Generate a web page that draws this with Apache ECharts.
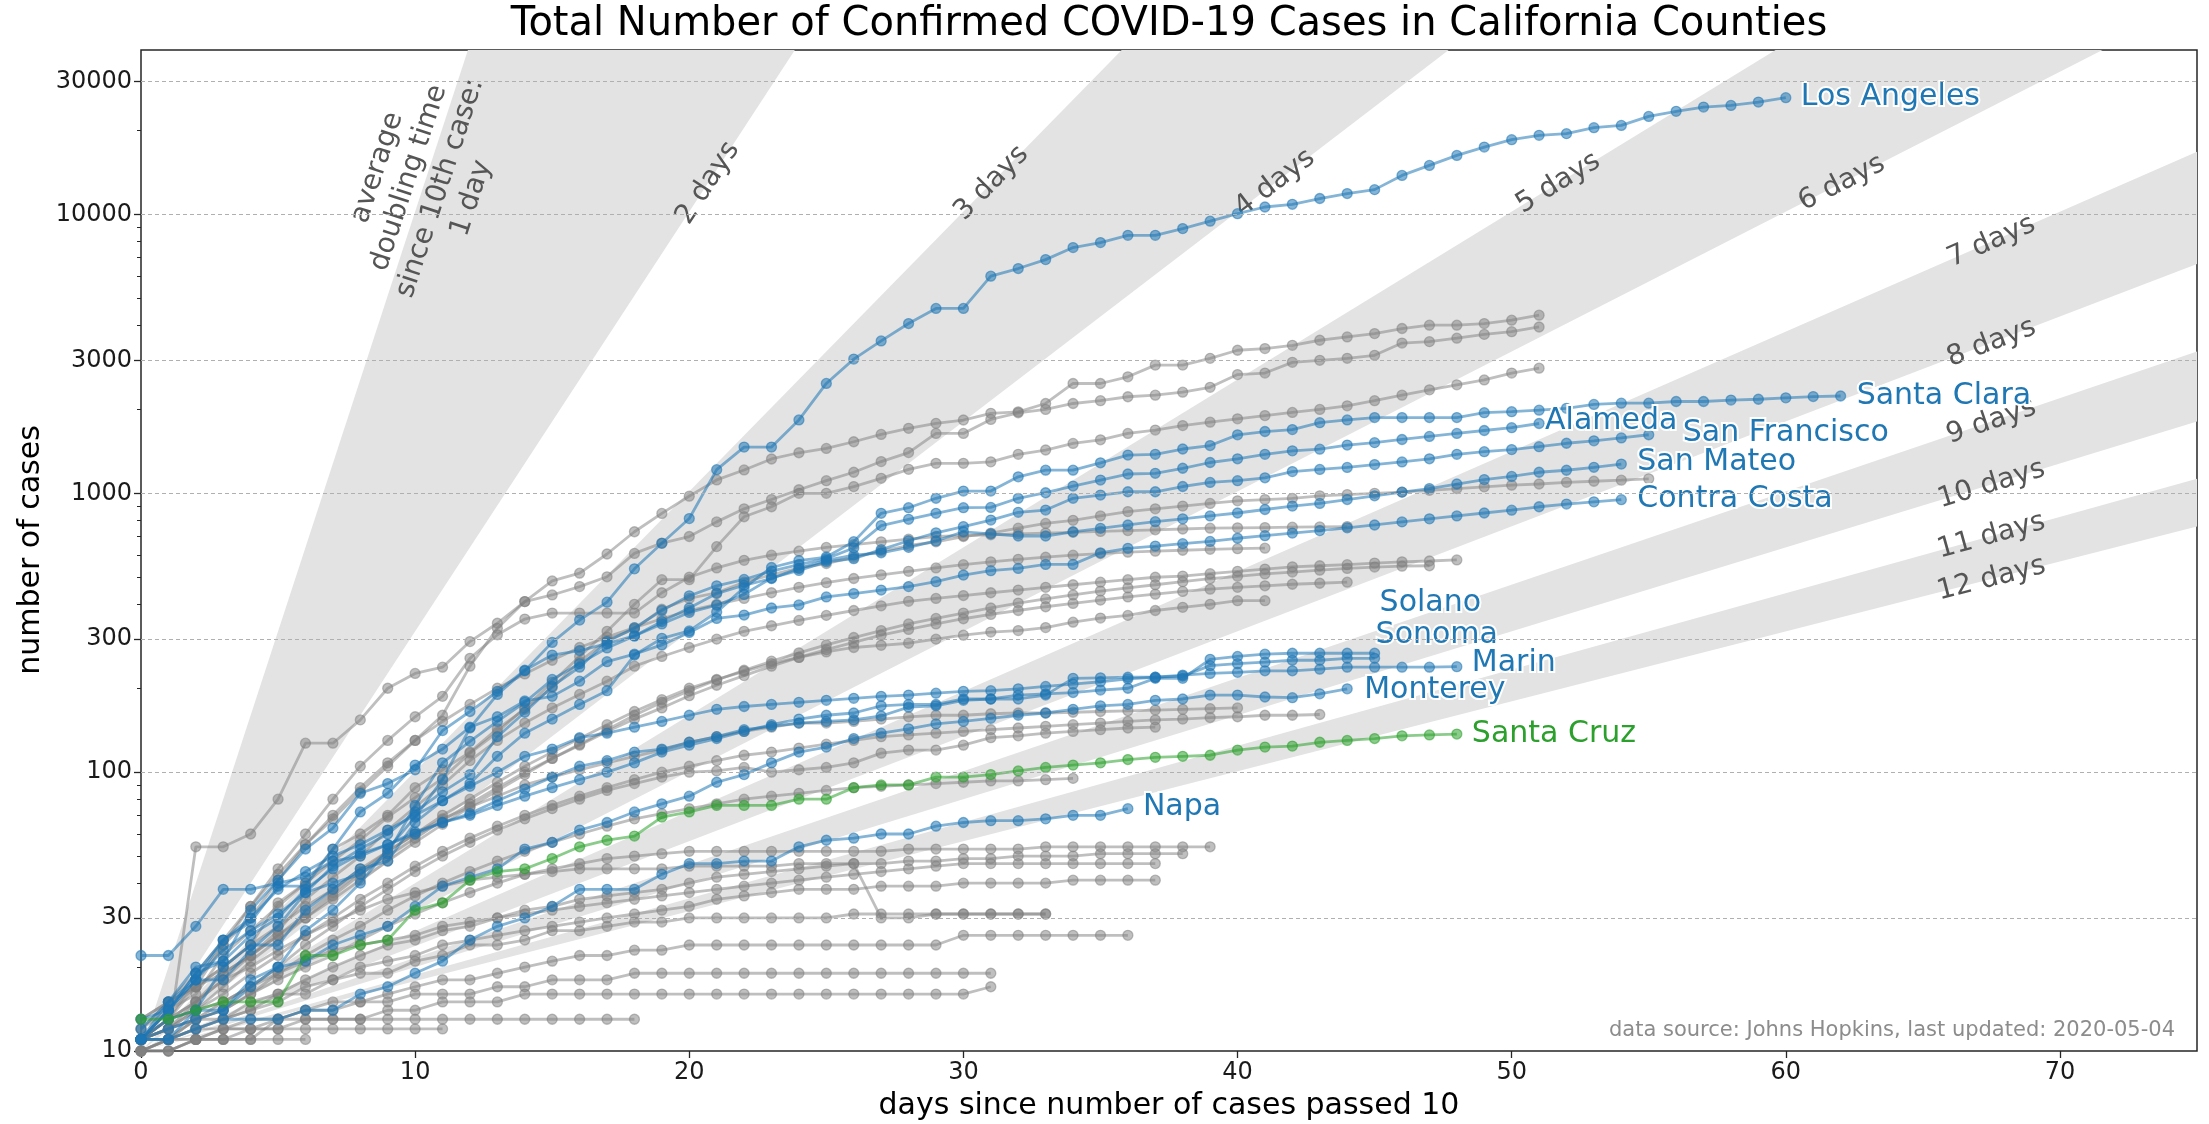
<!DOCTYPE html>
<html>
<head>
<meta charset="utf-8">
<title>Total Number of Confirmed COVID-19 Cases in California Counties</title>
<script src="https://cdn.jsdelivr.net/npm/echarts@6/dist/echarts.min.js"></script>
<style>
html, body { margin: 0; padding: 0; background: #fff; }
#chart { width: 2209px; height: 1124px; }
</style>
</head>
<body>
<div id="chart"></div>
<script>
// axis ticks
const xTicks = [0, 10, 20, 30, 40, 50, 60, 70];
const yTicks = [10, 30, 100, 300, 1000, 3000, 10000, 30000];
const yMinorTicks = [20, 40, 50, 60, 70, 80, 90, 200, 400, 500, 600, 700, 800, 900,
  2000, 4000, 5000, 6000, 7000, 8000, 9000, 20000];
const yMax = 38900;

// doubling time bands (days) and the doubling times that get a label
const bandPairs = [[1, 2], [3, 4], [5, 6], [7, 8], [9, 10], [11, 12]];
const doublingDays = [1, 2, 3, 4, 5, 6, 7, 8, 9, 10, 11, 12];

// highlighted counties, one value per day since the count passed 10
const losAngeles = [11,13,14,14,17,20,27,32,40,53,69,94,144,190,231,292,351,407,536,662,812,1216,1465,1465,1833,2478,3030,3520,4064,4603,4603,6010,6400,6890,7610,7930,8420,8420,8900,9460,10070,10640,10880,11410,11890,12280,13810,15000,16290,17450,18550,19230,19500,20480,20870,22480,23440,24280,24620,25300,26240];
const santaClara = [11,11,14,20,24,24,32,38,45,48,66,79,91,114,138,155,175,196,263,302,321,375,459,542,574,591,671,848,888,960,1019,1019,1146,1211,1211,1287,1372,1380,1442,1484,1621,1666,1693,1792,1833,1870,1870,1870,1870,1946,1962,1987,2018,2084,2105,2105,2135,2135,2160,2175,2200,2224,2234];
const alameda = [11,15,18,23,27,31,37,46,53,60,72,85,98,134,164,203,238,294,329,380,429,466,491,526,555,583,637,766,807,848,888,890,960,1005,1062,1116,1173,1180,1230,1290,1330,1380,1420,1440,1490,1520,1560,1600,1640,1680,1720,1780];
const sanFrancisco = [13,14,18,18,23,28,37,40,43,51,76,108,129,152,178,215,245,279,308,340,374,397,434,497,529,568,583,628,676,722,760,802,855,871,960,986,1013,1013,1058,1094,1110,1137,1197,1218,1239,1268,1296,1330,1380,1410,1435,1470,1512,1543,1580,1622];
const sanMateo = [12,15,20,21,32,41,53,63,84,91,102,141,165,195,232,263,273,289,308,347,388,437,468,495,538,575,600,612,640,675,728,716,703,703,728,749,770,791,810,830,850,875,900,920,950,980,1010,1040,1080,1120,1150,1190,1210,1240,1273];
const contraCosta = [11,14,18,25,29,39,39,53,72,84,106,121,145,158,180,187,212,249,265,286,317,356,366,388,398,425,437,450,463,482,509,528,538,556,556,612,635,647,660,672,690,705,720,735,752,770,790,810,830,850,870,895,915,932,949];
const solano = [22,22,28,38,38,40,42,48,50,55,60,66,70,76,82,88,94,100,108,118,125,132,140,148,155,160,163,173,175,175,183,183,189,191,193,197,200,217,217,254,260,265,267,267,267,267];
const sonoma = [11,14,19,21,26,30,38,45,51,55,61,66,71,79,87,96,105,110,118,121,128,134,142,146,150,152,154,159,171,173,181,183,183,189,217,218,219,219,221,241,245,248,252,252,256,256];
const marin = [11,14,19,25,30,38,44,50,55,62,70,79,89,100,114,121,133,138,145,152,160,168,172,175,178,181,184,187,189,192,195,196,199,203,207,211,216,219,223,226,228,231,231,234,238,238,238,238,239];
const monterey = [11,12,13,14,18,20,21,24,26,28,33,39,42,45,53,56,62,66,72,77,82,92,98,108,118,123,132,138,143,149,152,156,160,163,168,173,175,181,183,189,189,186,185,191,199];
const napa = [11,11,12,13,13,13,14,14,16,17,19,21,25,28,30,33,38,38,38,43,47,47,48,48,54,57,58,60,60,64,66,67,67,68,70,70,74];
const santaCruz = [13,13,14,15,15,15,22,22,24,25,32,34,41,44,45,49,54,57,59,69,72,76,76,76,80,80,88,90,90,96,96,98,101,104,106,108,111,113,114,115,120,123,124,128,130,132,135,136,137];

// other counties (grey)
const g01 = [11,11,54,54,60,80,127,127,154,200,226,238,294,342,409,485,517,606,728,847,977,1117,1213,1328,1398,1449,1531,1627,1710,1782,1832,1936,1960,2100,2477,2477,2617,2883,2883,3048,3260,3305,3395,3540,3638,3740,3900,4008,4008,4063,4177,4355];
const g02 = [11,13,18,24,30,41,55,68,85,105,130,160,240,328,409,432,463,502,609,663,700,790,880,950,1030,1110,1190,1300,1400,1640,1640,1841,1944,2000,2100,2150,2220,2250,2306,2400,2666,2700,2950,3000,3050,3126,3459,3500,3600,3716,3800,3950];
const g03 = [12,14,16,22,27,33,40,48,57,69,81,95,117,139,170,210,260,320,400,490,490,644,824,895,1000,1000,1057,1132,1219,1281,1281,1297,1380,1430,1510,1556,1640,1686,1750,1800,1850,1900,1950,2000,2060,2150,2250,2350,2450,2550,2700,2812];
const g04 = [11,14,17,20,24,34,40,53,60,70,88,102,118,143,168,201,249,297,326,384,420,440,480,510,540,560,590,620,650,670,700,720,750,780,800,830,860,880,900,920,940,950,960,980,990,1000,1010,1025,1040,1055,1070,1080,1095,1105,1115,1127];
const g05 = [11,13,17,24,33,45,60,80,105,130,158,187,256,311,354,372,372,372,372,440,500,540,575,600,620,640,655,670,685,700,705,710,715,720,725,730,735,740,745,750,752,754,756,758,760];
const g06 = [12,15,19,25,33,43,55,70,88,108,130,152,175,200,225,252,280,305,330,355,380,400,420,440,460,478,495,510,525,540,555,568,580,590,600,608,615,620,625,630,633,636];
const g07 = [11,12,15,19,22,27,35,42,50,62,75,90,110,130,150,170,190,212,240,260,280,300,320,335,350,365,380,395,410,420,430,440,450,460,470,480,490,500,505,515,525,535,545,550,555,562,568,572,577];
const g08 = [11,13,15,18,22,26,31,37,44,52,60,70,80,92,105,118,132,148,165,182,200,215,230,245,258,270,280,285,290,300,310,318,322,330,345,357,365,380,390,400,412,412];
const g09 = [11,12,14,17,21,25,30,36,43,50,58,67,77,88,100,112,125,140,155,170,188,205,222,240,258,275,292,310,325,340,355,368,380,392,403,414,425,435,445,453,460,466,472,476,480];
const g10 = [13,15,17,19,22,26,30,35,41,48,56,65,75,86,98,112,126,142,160,178,196,214,232,250,268,286,304,322,340,356,372,388,404,418,432,446,458,470,482,494,504,514,522,530,538,544,548,550];
const g11 = [11,12,14,16,19,22,26,30,35,40,46,52,58,64,70,76,82,88,94,100,105,110,115,118,122,126,130,134,136,138,140,142,144,146,148,150,152,154,155,157,158,160,160,161];
const g12 = [13,15,17,20,24,28,33,38,45,52,60,68,75,82,90,96,102,108,114,120,128,134,140,145,150,150,152,155,158,160,160,162,163,163,164,165,166,167,168,169,170];
const g13 = [11,12,13,15,17,20,24,28,33,38,44,50,56,62,68,74,80,86,91,96,100,101,104,100,102,104,108,117,120,120,125,133,135,138,140,142,144,145];
const g14 = [10,11,13,14,16,19,22,25,28,32,36,40,44,48,52,56,60,64,68,71,74,77,80,82,84,86,88,89,90,91,92,93,93,94,95];
const g15 = [11,12,13,14,16,18,20,22,25,28,31,34,37,40,43,45,47,49,50,51,52,52,52,52,52,52,52,52,53,53,53,53,53,54,54,54,54,54,54,54];
const g16 = [11,13,14,15,17,19,21,23,24,25,26,28,29,30,32,33,35,36,37,38,40,42,43,44,45,46,47,47,48,48,49,49,50,50,50,51,51,51,51];
const g17 = [10,11,12,13,15,16,18,20,22,24,25,27,28,30,31,32,33,34,35,36,37,38,39,40,41,42,43,44,45,46,47,47,47,47,47,47,47,47];
const g18 = [11,11,12,13,14,15,17,18,20,21,22,24,25,26,27,28,29,30,31,32,33,35,36,37,38,38,38,39,39,39,40,40,40,40,41,41,41,41];
const g19 = [11,13,15,18,20,23,26,29,32,35,37,39,41,42,43,44,45,45,45,45,46,46,46,46,47,47,47,30,30,31,31,31,31,31];
const g20 = [11,11,13,13,14,16,16,18,19,19,21,22,24,24,25,27,27,28,29,29,30,30,30,30,30,30,31,31,31,31,31,31,31,31];
const g21 = [10,11,11,12,12,13,14,15,15,16,17,18,18,19,20,21,22,22,23,23,24,24,24,24,24,24,24,24,24,24,26,26,26,26,26,26,26];
const g22 = [11,11,12,12,13,13,14,14,15,15,16,16,16,17,17,18,18,18,19,19,19,19,19,19,19,19,19,19,19,19,19,19];
const g23 = [10,10,11,11,12,12,13,13,13,14,14,15,15,15,16,16,16,16,16,16,16,16,16,16,16,16,16,16,16,16,16,17];
const g24 = [10,10,11,11,11,13,13,13,13,13,13,13,13,13,13,13,13,13,13];
const g25 = [10,11,11,12,12,12,12,12,12,12,12,12];
const g26 = [10,10,11,11,11,11,11];
const greyCounties = [g01,g02,g03,g04,g05,g06,g07,g08,g09,g10,g11,g12,g13,g14,g15,g16,g17,g18,g19,g20,g21,g22,g23,g24,g25,g26];

const highlighted = [
  { name: 'Los Angeles', values: losAngeles },
  { name: 'Santa Clara', values: santaClara },
  { name: 'Alameda', values: alameda },
  { name: 'San Francisco', values: sanFrancisco },
  { name: 'San Mateo', values: sanMateo },
  { name: 'Contra Costa', values: contraCosta },
  { name: 'Solano', values: solano },
  { name: 'Sonoma', values: sonoma },
  { name: 'Marin', values: marin },
  { name: 'Monterey', values: monterey },
  { name: 'Napa', values: napa },
  { name: 'Santa Cruz', values: santaCruz }
];

// label offsets [dx, dy] from the last point of each highlighted line
const labelOffsets = {
  'Los Angeles': [15, 0], 'Santa Clara': [16, 0], 'Alameda': [6, -2],
  'San Francisco': [34, -2], 'San Mateo': [16, -2], 'Contra Costa': [16, 0],
  'Solano': [5, -50], 'Sonoma': [1, -23], 'Marin': [15, -3],
  'Monterey': [17, 1], 'Napa': [15, -1], 'Santa Cruz': [15, 0]
};

const BLUE = '#1f77b4';
const GREEN = '#2ca02c';
const GREY = '#808080';
const FONT = '"DejaVu Sans", sans-serif';

function lineSeries(name, values, color, opacity, z) {
  return {
    name: name,
    type: 'line',
    data: values.map((v, i) => [i, v]),
    symbol: 'circle',
    symbolSize: 10,
    showAllSymbol: true,
    lineStyle: { color: color, width: 2.8, opacity: opacity },
    itemStyle: { color: color, opacity: opacity, borderColor: color, borderWidth: 1.3 },
    emphasis: { disabled: true },
    silent: true,
    z: z
  };
}

// polygon between two doubling time lines, cut at the plot edges
function bandPolygon(d1, d2) {
  const topDoublings = Math.log2(yMax / 10);
  const edge = d => {
    const xTop = d * topDoublings;
    return xTop <= 75 ? [xTop, yMax] : [75, 10 * Math.pow(2, 75 / d)];
  };
  const p1 = edge(d1), p2 = edge(d2);
  const pts = [[0, 10], p1];
  if (p1[1] === yMax && p2[0] === 75) pts.push([75, yMax]);
  pts.push(p2);
  return pts;
}

var chart = echarts.init(document.getElementById('chart'));

var series = [];
series.push({
  type: 'custom',
  silent: true,
  z: 1,
  data: bandPairs.map(p => [p[0], p[1]]),
  renderItem: function (params, api) {
    const pair = bandPairs[params.dataIndex];
    const pts = bandPolygon(pair[0], pair[1]).map(p => api.coord(p));
    return { type: 'polygon', shape: { points: pts }, style: { fill: '#e3e3e3' } };
  }
});
series.push({
  type: 'custom',
  silent: true,
  z: 1,
  data: doublingDays.map(d => [d, 10]),
  renderItem: function (params, api) {
    const d = doublingDays[params.dataIndex];
    let xl = d * Math.log2(yMax / 3 / 10);
    let yl = yMax / 3;
    if (xl > 67.5) { xl = 67.5; yl = 10 * Math.pow(2, xl / d); }
    const p0 = api.coord([0, 10]);
    const p1 = api.coord([xl, yl]);
    const angle = Math.atan2(p0[1] - p1[1], p1[0] - p0[0]);
    const text = d === 1 ? 'average\ndoubling time\nsince 10th case:\n1 day' : d + ' days';
    return {
      type: 'text', x: p1[0], y: p1[1], rotation: angle,
      style: { text: text, fill: '#555', font: '28px ' + FONT, align: 'center', verticalAlign: 'middle', lineHeight: 33 }
    };
  }
});
// dashed horizontal grid lines at the major y ticks
series.push({
  type: 'line',
  data: [],
  silent: true,
  z: 1,
  markLine: {
    silent: true,
    symbol: 'none',
    label: { show: false },
    lineStyle: { type: [4, 3], color: '#b0b0b0', width: 1 },
    data: yTicks.slice(1).map(v => ({ yAxis: v }))
  }
});

greyCounties.forEach((vals, i) => series.push(lineSeries('g' + i, vals, GREY, 0.5, 2)));

highlighted.forEach(c => {
  const color = c.name === 'Santa Cruz' ? GREEN : BLUE;
  const s = lineSeries(c.name, c.values, color, 0.55, c.name === 'Santa Cruz' ? 4 : 3);
  const off = labelOffsets[c.name];
  s.endLabel = {
    show: true,
    formatter: function () { return c.name; },
    color: color,
    fontSize: 30,
    fontFamily: FONT,
    distance: 0,
    offset: off,
    textBorderColor: '#fff',
    textBorderWidth: 4
  };
  series.push(s);
});

chart.setOption({
  animation: false,
  backgroundColor: '#fff',
  grid: { left: 141, right: 12, top: 50, bottom: 73, show: true, borderColor: '#262626', borderWidth: 1.5, backgroundColor: 'transparent' },
  xAxis: {
    type: 'value', min: 0, max: 75,
    axisLine: { show: false },
    splitLine: { show: false },
    axisTick: { show: true, customValues: xTicks, length: 7, lineStyle: { color: '#262626', width: 1.3 } },
    axisLabel: { customValues: xTicks, fontSize: 24, color: '#1a1a1a', fontFamily: FONT, margin: 10,
      formatter: v => String(v) }
  },
  yAxis: [{
    type: 'log', logBase: 10, min: 10, max: yMax,
    axisLine: { show: false },
    splitLine: { show: false },
    axisTick: { show: true, customValues: yTicks, length: 7, lineStyle: { color: '#262626', width: 1.3 } },
    axisLabel: { customValues: yTicks, fontSize: 24, color: '#1a1a1a', fontFamily: FONT, margin: 9,
      formatter: v => String(Math.round(v)) }
  }, {
    type: 'log', logBase: 10, min: 10, max: yMax, position: 'left',
    axisLine: { show: false },
    splitLine: { show: false },
    axisLabel: { show: false },
    axisTick: { show: true, customValues: yMinorTicks, length: 4, lineStyle: { color: '#262626', width: 1 } }
  }],
  graphic: [
    { type: 'text', x: 1169, y: 25, silent: true,
      style: { text: 'Total Number of Confirmed COVID-19 Cases in California Counties', font: '40px ' + FONT, fill: '#000', align: 'center', verticalAlign: 'middle' } },
    { type: 'text', x: 1169, y: 1106, silent: true,
      style: { text: 'days since number of cases passed 10', font: '30px ' + FONT, fill: '#000', align: 'center', verticalAlign: 'middle' } },
    { type: 'text', x: 31, y: 550, rotation: Math.PI / 2, silent: true,
      style: { text: 'number of cases', font: '30px ' + FONT, fill: '#000', align: 'center', verticalAlign: 'middle' } },
    { type: 'text', x: 2175, y: 1031, silent: true,
      style: { text: 'data source: Johns Hopkins, last updated: 2020-05-04', font: '21px ' + FONT, fill: '#8c8c8c', align: 'right', verticalAlign: 'middle' } }
  ],
  series: series
});
</script>
</body>
</html>
